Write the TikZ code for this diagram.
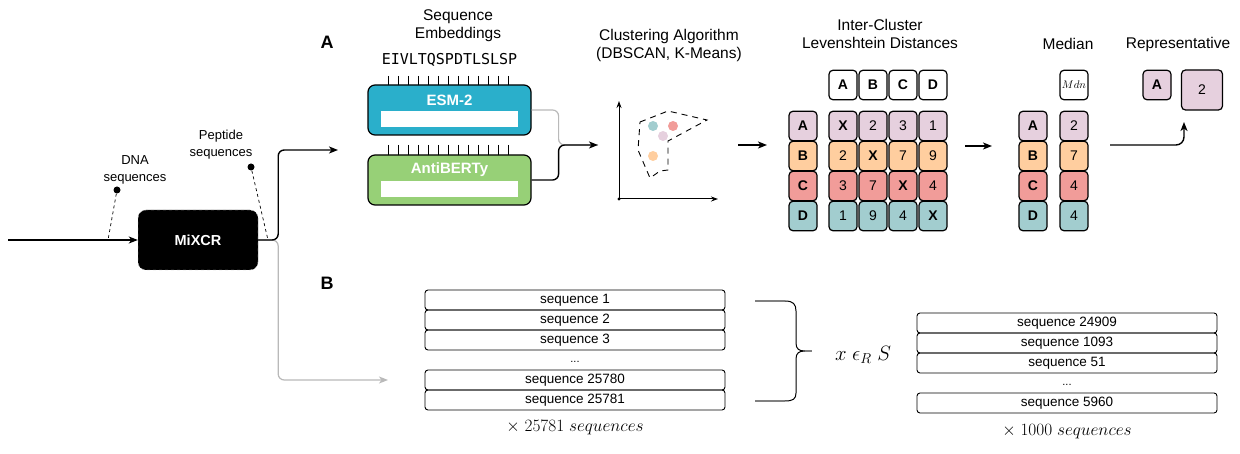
\documentclass[tikz,border=0pt]{standalone}
\usepackage{fontspec}
\setmainfont{Liberation Sans}
\newfontfamily\seqfont{DejaVu Sans Mono}
\usetikzlibrary{arrows.meta}
\definecolor{clA}{HTML}{E6D0DE}
\definecolor{clB}{HTML}{FFCE9F}
\definecolor{clC}{HTML}{F19C99}
\definecolor{clD}{HTML}{A2CDCF}
\definecolor{esmblue}{HTML}{2AAFCB}
\definecolor{antigreen}{HTML}{97D077}
\tikzset{
  arr/.style={-{Stealth[length=9pt,width=7pt,inset=2.5pt]}, line width=1.4pt},
  title/.style={align=center, font=\fontsize{15.5}{18}\selectfont},
  note/.style={align=center, font=\fontsize{13}{17}\selectfont},
  cell/.style={draw, line width=1.2pt, rounded corners=4pt, minimum width=28pt,
    minimum height=29.5pt, inner sep=0pt, font=\fontsize{14}{16}\selectfont},
  lab/.style={cell, font=\fontsize{14}{16}\selectfont\bfseries},
  model/.style={draw, line width=1.2pt, rounded corners=7pt, minimum width=163pt,
    minimum height=50pt},
  modelname/.style={text=white, font=\fontsize{15}{18}\selectfont\bfseries},
  bar/.style={fill=white, minimum width=137pt, minimum height=16pt, inner sep=0pt},
  seqbox/.style={draw, line width=0.9pt, rounded corners=3pt, minimum width=300pt,
    minimum height=20pt, inner sep=0pt, font=\fontsize{13.5}{15}\selectfont},
  seqdots/.style={font=\fontsize{11}{12}\selectfont},
  count/.style={font=\fontsize{16.5}{18}\selectfont},
  dot/.style={circle, fill=black, inner sep=0pt, minimum size=7pt},
  leader/.style={dashed, line width=0.7pt},
}
\begin{document}
\begin{tikzpicture}[x=1pt,y=-1pt]
      \useasboundingbox (0,0) rectangle (1240,454);
      % MiXCR
      \node[fill=black, draw=gray!50, dashed, rounded corners=8pt, minimum width=120pt,
        minimum height=60pt, text=white, font=\fontsize{14.5}{16}\selectfont\bfseries]
        (mix) at (198,240) {MiXCR};
      \coordinate (src) at (8,240);
      \draw[arr] (src) -- (mix.west);
      \node[note] (dna) at (135,170) {DNA\\sequences};
      \node[dot] (dnadot) at (117,190) {};
      \coordinate (dnaend) at (108,240);
      \draw[leader] (dnadot) -- (dnaend);
      \node[note] (pep) at (221,145) {Peptide\\sequences};
      \node[dot] (pepdot) at (251,167) {};
      \coordinate (pepend) at (268,240);
      \draw[leader] (pepdot) -- (pepend);
      \coordinate (embin) at (338,150);
      \coordinate (listin) at (388,380);
      \draw[arr, gray!55, line width=1.2pt, rounded corners=6pt] (mix.east) -- ++(20,0) |- (listin);
      \draw[arr, rounded corners=6pt] (mix.east) -- ++(20,0) |- (embin);
      \node[font=\fontsize{18}{20}\selectfont\bfseries] (partA) at (327,42) {A};
      \node[font=\fontsize{18}{20}\selectfont\bfseries] (partB) at (327,283) {B};
      % embeddings
      \node[title] (embtitle) at (458,26) {Sequence\\Embeddings};
      \node[font=\fontsize{15}{17}\selectfont\seqfont] (pepseq) at (449.5,60) {EIVLTQSPDTLSLSP};
      \foreach \x in {388,398,...,508}
        \draw[line width=0.7pt] (\x,76) -- (\x,85) (\x,145) -- (\x,155);
      \node[model, fill=esmblue] (esm) at (449.5,110) {};
      \node[modelname] (esmname) at (449.5,100) {ESM-2};
      \node[bar] (esmbar) at (449.5,119) {};
      \node[model, fill=antigreen] (anti) at (449.5,180) {};
      \node[modelname] (antiname) at (449.5,170) {AntiBERTy};
      \node[bar] (antibar) at (449.5,189) {};
      \coordinate (clin) at (598,145);
      \draw[gray!55, line width=1.2pt, rounded corners=6pt] (esm.east) -- ++(27,0) |- (clin);
      \draw[arr, rounded corners=6pt] (anti.east) -- ++(27,0) |- (clin);
      % clustering
      \node[title] (cltitle) at (669,45) {Clustering Algorithm\\(DBSCAN, K-Means)};
      \coordinate (o) at (619,199);
      \coordinate (yax) at (619,101);
      \coordinate (xax) at (718,199);
      \begin{scope}[-{Stealth[length=7pt,width=5pt]}, line width=1pt]
        \draw (o) -- (yax);
        \draw (o) -- (xax);
      \end{scope}
      \fill (o) circle (1.6);
      \draw[dash pattern=on 6pt off 5pt, line width=0.9pt]
        (640,122) -- (668,111) -- (707,120) -- (668,141) -- (668,170)
        -- (660,171) -- (650,178) -- (638,150) -- cycle;
      \fill[clD] (653,126) circle (5);
      \fill[clC] (673,126) circle (5);
      \fill[clA] (663,136) circle (5);
      \fill[clB] (653,156) circle (5);
      \coordinate (tabin1) at (738,145);
      \coordinate (tabin2) at (767,145);
      \draw[arr] (tabin1) -- (tabin2);
      % distances
      \node[title] (dtitle) at (880,34) {Inter-Cluster\\Levenshtein Distances};
      \draw
        (843,85) node[lab] (hA) {A}
        (873,85) node[lab] (hB) {B}
        (903,85) node[lab] (hC) {C}
        (933,85) node[lab] (hD) {D};
      \draw
        (803,126) node[lab, fill=clA] (rA) {A}
        (803,156) node[lab, fill=clB] (rB) {B}
        (803,186) node[lab, fill=clC] (rC) {C}
        (803,216) node[lab, fill=clD] (rD) {D};
      \draw
        (843,126) node[cell, fill=clA] (AA) {\textbf{X}}
        (873,126) node[cell, fill=clA] (AB) {2}
        (903,126) node[cell, fill=clA] (AC) {3}
        (933,126) node[cell, fill=clA] (AD) {1}
        (843,156) node[cell, fill=clB] (BA) {2}
        (873,156) node[cell, fill=clB] (BB) {\textbf{X}}
        (903,156) node[cell, fill=clB] (BC) {7}
        (933,156) node[cell, fill=clB] (BD) {9}
        (843,186) node[cell, fill=clC] (CA) {3}
        (873,186) node[cell, fill=clC] (CB) {7}
        (903,186) node[cell, fill=clC] (CC) {\textbf{X}}
        (933,186) node[cell, fill=clC] (CD) {4}
        (843,216) node[cell, fill=clD] (DA) {1}
        (873,216) node[cell, fill=clD] (DB) {9}
        (903,216) node[cell, fill=clD] (DC) {4}
        (933,216) node[cell, fill=clD] (DD) {\textbf{X}};
      \coordinate (medin1) at (965,146);
      \coordinate (medin2) at (992,146);
      \draw[arr] (medin1) -- (medin2);
      % median
      \node[title] (mtitle) at (1068,44) {Median};
      \node[cell, font=\fontsize{10.5}{12}\selectfont] (mdn) at (1074,85) {$Mdn$};
      \draw
        (1033,126) node[lab, fill=clA] (mA) {A}
        (1033,156) node[lab, fill=clB] (mB) {B}
        (1033,186) node[lab, fill=clC] (mC) {C}
        (1033,216) node[lab, fill=clD] (mD) {D}
        (1074,126) node[cell, fill=clA] (vA) {2}
        (1074,156) node[cell, fill=clB] (vB) {7}
        (1074,186) node[cell, fill=clC] (vC) {4}
        (1074,216) node[cell, fill=clD] (vD) {4};
      % representative
      \node[title] (rtitle) at (1178,44) {Representative};
      \node[lab, fill=clA] (repA) at (1157,85) {A};
      \node[cell, fill=clA, minimum width=41pt, minimum height=40pt] (rep2) at (1202,90) {2};
      \coordinate (medout) at (1110,145);
      \coordinate (reptip) at (1184,122);
      \draw[arr, rounded corners=8pt] (medout) -| (reptip);
      % sampling
      \draw
        (575,300) node[seqbox] (s1) {sequence 1}
        (575,320) node[seqbox] (s2) {sequence 2}
        (575,340) node[seqbox] (s3) {sequence 3}
        (575,362) node[seqdots] (sdots) {...}
        (575,380) node[seqbox] (s4) {sequence 25780}
        (575,400) node[seqbox] (s5) {sequence 25781};
      \node[count] (scount) at (575,428) {$\times\; 25781\; sequences$};
      \coordinate (brtop) at (755,301);
      \coordinate (brbot) at (755,401);
      \draw[gray, line width=1.2pt] (brtop) -- ++(30,0) (brbot) -- ++(30,0);
      \draw[line width=1pt]
        (785,301) .. controls (793,301) and (796,304) .. (796,311) -- (796,343)
        .. controls (796,349) and (799,351) .. (805,351)
        .. controls (799,351) and (796,353) .. (796,359) -- (796,393)
        .. controls (796,399) and (793,401) .. (785,401);
      \draw[gray, line width=1.2pt] (805,351) -- (812,351);
      \node[font=\fontsize{20}{22}\selectfont] (pick) at (863,355) {$x\ \epsilon_R\ S$};
      \draw
        (1067,323) node[seqbox] (t1) {sequence 24909}
        (1067,343) node[seqbox] (t2) {sequence 1093}
        (1067,363) node[seqbox] (t3) {sequence 51}
        (1067,385) node[seqdots] (tdots) {...}
        (1067,403) node[seqbox] (t4) {sequence 5960};
      \node[count] (tcount) at (1067,432) {$\times\; 1000\; sequences$};
    \end{tikzpicture}
\end{document}
